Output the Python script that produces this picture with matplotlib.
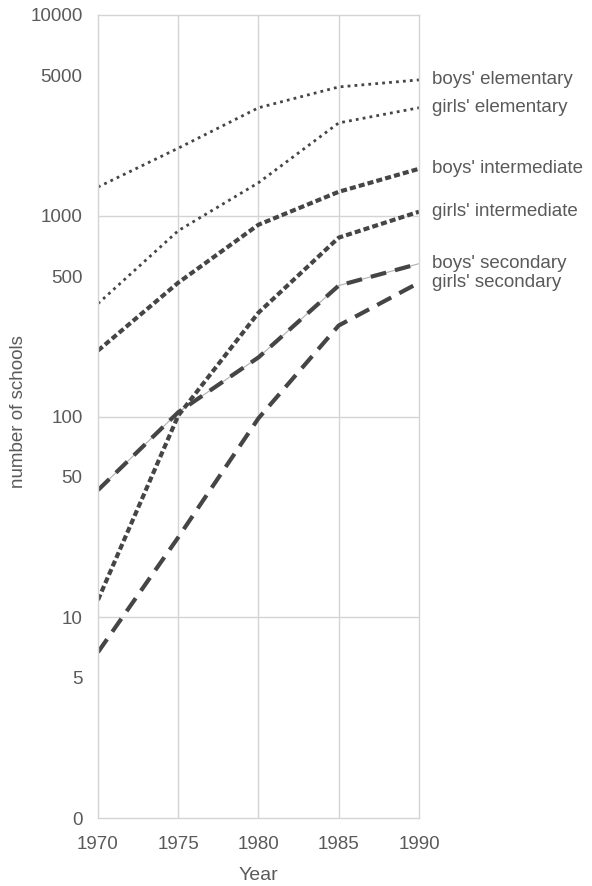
import numpy as np
import matplotlib.pyplot as plt
from matplotlib.ticker import FixedLocator, NullLocator

plt.rcParams['font.family'] = ['Liberation Sans', 'DejaVu Sans']

years = [1970, 1975, 1980, 1985, 1990]
boys_elem = [1390, 2170, 3450, 4380, 4750]
girls_elem = [365, 842, 1460, 2900, 3450]
boys_int = [213, 464, 902, 1316, 1713]
girls_int = [12.2, 101, 329, 778, 1047]
boys_sec = [43, 105, 197, 449, 577]
girls_sec = [6.7, 25, 98, 284, 464]

names = ["boys' elementary", "girls' elementary", "boys' intermediate",
         "girls' intermediate", "boys' secondary", "girls' secondary"]
series = [boys_elem, girls_elem, boys_int, girls_int, boys_sec, girls_sec]

yticks = [1, 5, 10, 50, 100, 500, 1000, 5000, 10000]
ylabels = ['0', '5', '10', '50', '100', '500', '1000', '5000', '10000']

ink = '#454545'
grid = '#d4d4d4'
txt = '#5a5a5a'

fig = plt.figure(figsize=(5.92, 8.86), dpi=100)
ax = fig.add_axes([0.1655, 0.0767, 0.5422, 0.9064])
ax.set_yscale('log')

# grid lines
for gy in [10, 100, 1000]:
    ax.axhline(gy, color=grid, lw=1, zorder=0)
for gx in [1975, 1980, 1985]:
    ax.axvline(gx, color=grid, lw=1, zorder=0)

styles = [
    dict(lw=2.0, ls=(0, (1, 1.5))),
    dict(lw=2.0, ls=(0, (1, 1.5))),
    dict(lw=3.0, ls=(0, (1.45, 0.75))),
    dict(lw=3.0, ls=(0, (1.45, 0.75))),
    dict(lw=3.0, ls=(0, (3.8, 2.2))),
    dict(lw=3.0, ls=(0, (3.8, 2.2))),
]

# thin line under the boys' secondary dashes
ax.plot(years, boys_sec, color='#b0b0b0', lw=0.8, zorder=1)

for name, vals, st in zip(names, series, styles):
    ax.plot(years, vals, color=ink, linewidth=st['lw'], linestyle=st['ls'], zorder=2)
    ax.annotate(name, xy=(years[-1], vals[-1]), xytext=(9.5, 0),
                textcoords='offset points', va='center', ha='left',
                fontsize=13.5, color=txt, annotation_clip=False)

ax.set_xlim(1970, 1990)
ax.set_ylim(1, 10000)
ax.set_xticks(years)
ax.set_xticklabels([str(y) for y in years])
ax.yaxis.set_major_locator(FixedLocator(yticks))
ax.yaxis.set_minor_locator(NullLocator())
ax.set_yticklabels(ylabels)
ax.tick_params(length=0, labelsize=13.5, colors=txt)
ax.tick_params(axis='x', pad=13)
ax.tick_params(axis='y', pad=11)
for s in ax.spines.values():
    s.set_color(grid)
    s.set_linewidth(1)

ax.set_xlabel('Year', fontsize=14, color=txt, labelpad=10)
ax.set_ylabel('number of schools', fontsize=13.5, color=txt)
ax.yaxis.set_label_coords(-0.222, 0.506)

fig.savefig('out.png', dpi=100)
